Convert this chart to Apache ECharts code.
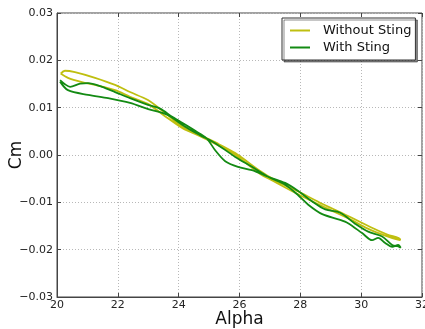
<!DOCTYPE html>
<html><head><meta charset="utf-8">
<script src="https://cdn.jsdelivr.net/npm/echarts@6/dist/echarts.min.js"></script>
<style>html,body{margin:0;padding:0;background:#fff}#c{width:425px;height:329px}</style>
</head><body><div id="c"></div>
<script>
// Without Sting: closed loop (outgoing branch then return branch), [alpha, Cm]
const withoutStingOut = [[20.12,0.0172],[20.26,0.0178],[20.59,0.0175],[21.25,0.0163],[21.91,0.0148],[22.4,0.0133],[22.99,0.0116],[23.55,0.0089],[24.14,0.0059],[24.7,0.0042],[25.26,0.0025],[25.86,0.0004],[26.68,-0.0034],[27.11,-0.0051],[27.99,-0.0079],[28.75,-0.0104],[29.64,-0.0131],[30.3,-0.0152],[30.86,-0.0168],[31.28,-0.0178]];
const withoutStingBack = [[31.28,-0.0180],[30.86,-0.0172],[30.2,-0.0155],[29.64,-0.0136],[28.75,-0.0109],[27.99,-0.0085],[27.11,-0.0055],[26.68,-0.0040],[25.86,0.0000],[25.26,0.0022],[24.7,0.0040],[24.14,0.0056],[23.55,0.0082],[22.99,0.0108],[22.4,0.0123],[21.91,0.0137],[21.25,0.0148],[20.82,0.0154],[20.36,0.0163],[20.12,0.0172]];
// With Sting
const withStingOut = [[20.1,0.0158],[20.25,0.0150],[20.43,0.0144],[20.76,0.0151],[21.02,0.0152],[21.48,0.0144],[21.91,0.0133],[22.4,0.012],[22.99,0.0106],[23.39,0.0098],[23.8,0.0080],[24.28,0.0062],[24.7,0.0045],[24.95,0.0033],[25.2,0.0010],[25.53,-0.0013],[25.95,-0.0025],[26.41,-0.0032],[26.94,-0.0046],[27.5,-0.0059],[27.93,-0.0076],[28.39,-0.0098],[28.82,-0.0115],[29.31,-0.0122],[29.8,-0.0145],[30.23,-0.0162],[30.69,-0.0172],[31.02,-0.019],[31.22,-0.0193],[31.3,-0.0196]];
const withStingBack = [[31.3,-0.0196],[31.22,-0.0190],[31.02,-0.0194],[30.79,-0.0186],[30.56,-0.0175],[30.36,-0.0180],[30.03,-0.0165],[29.57,-0.0144],[29.31,-0.0137],[28.72,-0.0125],[28.26,-0.0105],[27.93,-0.0085],[27.5,-0.0063],[26.94,-0.0046],[26.41,-0.0025],[25.86,-0.0004],[25.2,0.0025],[24.7,0.0042],[24.2,0.0060],[23.62,0.0085],[23.0,0.0097],[22.4,0.0110],[21.68,0.0120],[21.02,0.0127],[20.36,0.0137],[20.1,0.0155]];
const xTicks = [20,22,24,26,28,30,32];
const yTicks = [-0.03,-0.02,-0.01,0.00,0.01,0.02,0.03];
const seriesNames = ['Without Sting','With Sting'];

const FONT = 'DejaVu Sans';
const chart = echarts.init(document.getElementById('c'), null, {renderer:'canvas'});
const fmtY = v => (v < 0 ? '\u2212' : '') + Math.abs(v).toFixed(2);
const gridLine = {show:true, lineStyle:{color:'#b8b8b8', type:[1,2], width:1}};
chart.setOption({
  animation:false,
  backgroundColor:'#fff',
  textStyle:{fontFamily:FONT},
  grid:{left:57, right:3, top:13, bottom:32, show:true, borderColor:'#444', borderWidth:1, containLabel:false, outerBoundsMode:'none'},
  legend:{
    data:seriesNames, orient:'vertical', left:282, top:18,
    padding:[4,4,4,8], itemGap:0, itemWidth:20, itemHeight:2, icon:'rect',
    backgroundColor:'#fff', borderColor:'#333', borderWidth:1,
    shadowColor:'rgba(0,0,0,0.45)', shadowOffsetX:2, shadowOffsetY:2, shadowBlur:0,
    textStyle:{fontFamily:FONT, fontSize:13, color:'#111', lineHeight:17, padding:[0,0,0,8]}
  },
  xAxis:[{
    type:'value', min:xTicks[0], max:xTicks[xTicks.length-1], interval:2,
    name:'Alpha', nameLocation:'middle', nameGap:14, nameMoveOverlap:false,
    nameTextStyle:{fontFamily:FONT, fontSize:17, color:'#111'},
    axisLine:{show:true, onZero:false, lineStyle:{color:'#444'}},
    axisTick:{show:true, inside:true, length:4, lineStyle:{color:'#444'}},
    axisLabel:{fontFamily:FONT, fontSize:11, color:'#222', margin:3},
    splitLine:gridLine
  },{
    type:'value', position:'top', min:xTicks[0], max:xTicks[xTicks.length-1], interval:2,
    axisLine:{show:false, onZero:false}, axisTick:{show:true, inside:true, length:4, lineStyle:{color:'#444'}},
    axisLabel:{show:false}, splitLine:{show:false}
  }],
  yAxis:[{
    type:'value', min:yTicks[0], max:yTicks[yTicks.length-1], interval:0.01,
    name:'Cm', nameLocation:'middle', nameGap:32, nameRotate:90, nameMoveOverlap:false,
    nameTextStyle:{fontFamily:FONT, fontSize:17, color:'#111'},
    axisLine:{show:true, onZero:false, lineStyle:{color:'#444'}},
    axisTick:{show:true, inside:true, length:4, lineStyle:{color:'#444'}},
    axisLabel:{fontFamily:FONT, fontSize:11, color:'#222', margin:4, formatter:fmtY},
    splitLine:gridLine
  },{
    type:'value', position:'right', min:yTicks[0], max:yTicks[yTicks.length-1], interval:0.01,
    axisLine:{show:false, onZero:false}, axisTick:{show:true, inside:true, length:4, lineStyle:{color:'#444'}},
    axisLabel:{show:false}, splitLine:{show:false}
  }],
  series:[
    {name:seriesNames[0], type:'line', data:withoutStingOut.concat(withoutStingBack), smooth:0.3, showSymbol:false, symbol:'none',
     itemStyle:{color:'#bfbf10'}, lineStyle:{color:'#bfbf10', width:1.8}},
    {name:seriesNames[1], type:'line', data:withStingOut.concat(withStingBack), smooth:0.3, showSymbol:false, symbol:'none',
     itemStyle:{color:'#138a13'}, lineStyle:{color:'#138a13', width:1.8}}
  ]
});
</script></body></html>
